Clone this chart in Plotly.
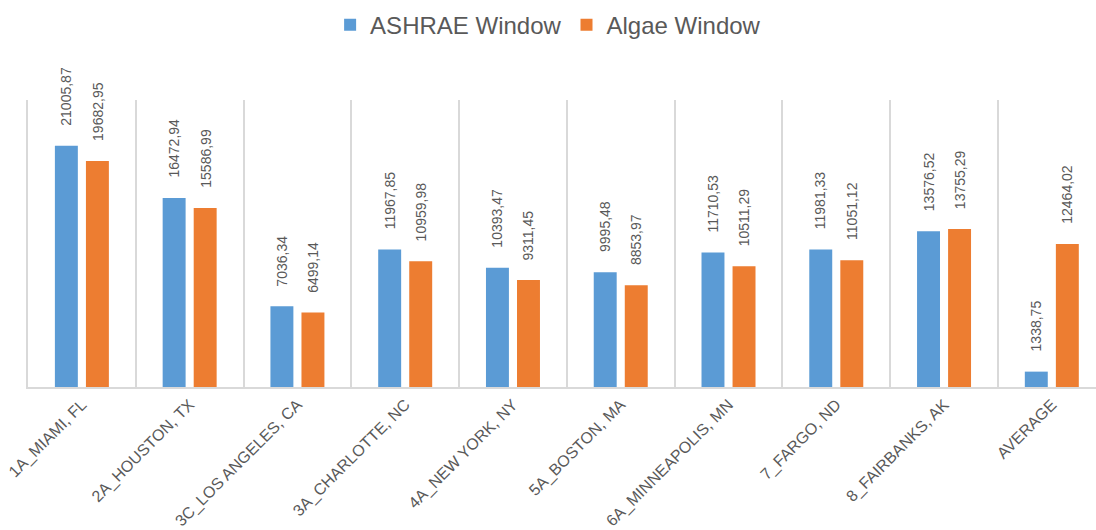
import plotly.graph_objects as go

categories = ["1A_MIAMI, FL", "2A_HOUSTON, TX", "3C_LOS ANGELES, CA", "3A_CHARLOTTE, NC",
              "4A_NEW YORK, NY", "5A_BOSTON, MA", "6A_MINNEAPOLIS, MN", "7_FARGO, ND",
              "8_FAIRBANKS, AK", "AVERAGE"]
ashrae = [21005.87, 16472.94, 7036.34, 11967.85, 10393.47, 9995.48, 11710.53, 11981.33, 13576.52, 1338.75]
algae = [19682.95, 15586.99, 6499.14, 10959.98, 9311.45, 8853.97, 10511.29, 11051.12, 13755.29, 12464.02]

FONT = "Arial, 'Liberation Sans', sans-serif"
GRAY = "#595959"
LINE = "#d9d9d9"

x = list(range(len(categories)))
bw = 0.213
off = 0.144

def fmt(v):
    return f"{v:.2f}".replace(".", ",")

fig = go.Figure()
fig.add_trace(go.Bar(x=x, y=ashrae, name="ASHRAE Window", marker_color="#5B9BD5",
                     width=bw, offset=-off - bw / 2, marker_line_width=0))
fig.add_trace(go.Bar(x=x, y=algae, name="Algae Window", marker_color="#ED7D31",
                     width=bw, offset=off - bw / 2, marker_line_width=0))

annotations = []
for i in x:
    for vals, d in ((ashrae, -off), (algae, off)):
        annotations.append(dict(x=i + d, y=vals[i], xref="x", yref="y", text=fmt(vals[i]),
                                textangle=-90, showarrow=False, yanchor="bottom", xanchor="center",
                                yshift=18, font=dict(family=FONT, size=14, color=GRAY)))

fig.update_layout(
    width=1096, height=530,
    margin=dict(l=28, r=0, t=100, b=143),
    paper_bgcolor="white", plot_bgcolor="white",
    barmode="overlay",
    showlegend=True,
    legend=dict(orientation="h", x=0.487, xanchor="center", y=1.261, yanchor="middle",
                font=dict(family=FONT, size=24, color=GRAY), itemsizing="constant",
                itemwidth=30, traceorder="normal"),
    annotations=annotations,
    xaxis=dict(range=[-0.5, 9.41], tickmode="array", tickvals=x, ticktext=categories,
               tickangle=-45, tickfont=dict(family=FONT, size=16, color=GRAY),
               showgrid=False, zeroline=False, showline=True, linecolor=LINE, linewidth=2,
               ticks="", fixedrange=True,
               minor=dict(tickmode="linear", tick0=-0.5, dtick=1, showgrid=True,
                          gridcolor=LINE, gridwidth=2, ticks="")),
    yaxis=dict(range=[0, 25000], showticklabels=False, showgrid=False, zeroline=False,
               showline=True, linecolor=LINE, linewidth=2, ticks=""),
)

fig.write_html("out.html")
